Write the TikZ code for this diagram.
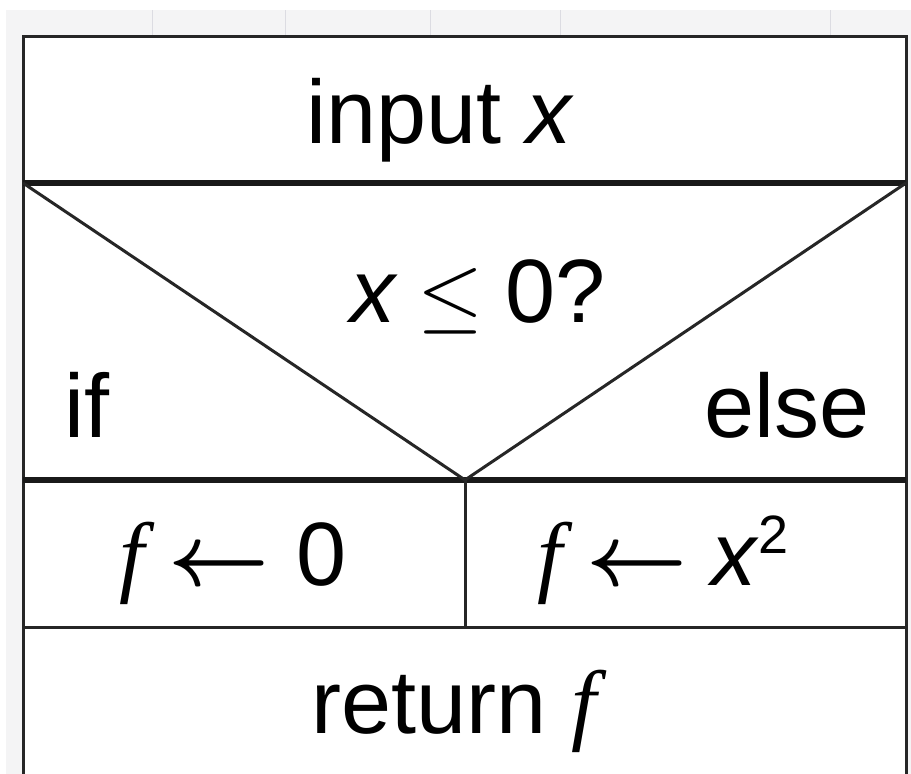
\documentclass[tikz,border=0pt]{standalone}
\usepackage{graphicx}
\usepackage{fontspec}
\setmainfont{Liberation Sans}
\newfontfamily\fserif{Liberation Serif}
\newcommand{\fvar}{{\fserif\itshape f}}
\newcommand{\xvar}{\textit{x}}
\newcommand{\bigleq}{\scalebox{8.5}{\fontsize{10}{12}\selectfont$\leq$}}
\newcommand{\bigarr}{\scalebox{8.8}{\fontsize{10}{12}\selectfont\boldmath$\leftarrow$}}
\begin{document}
\begin{tikzpicture}[x=1pt,y=-1pt,
  thinline/.style={line width=3pt,draw=black!85},
  thickline/.style={line width=6pt,draw=black!90},
  lbl/.style={anchor=base,inner sep=0pt,font=\fontsize{90}{104}\selectfont},
  backdrop/.style={fill=blue!6!gray!8,draw=none}]
\useasboundingbox (0,0) rectangle (911,774);
\fill[backdrop] (6,10) rectangle (911,774);
\foreach \gx in {152,285,430,560,830}{\draw[blue!10!gray!25,line width=1pt] (\gx,10) -- (\gx,36);}
% corners
\coordinate (tl) at (23,36);
\coordinate (tr) at (906,36);
\coordinate (ml) at (23,183);
\coordinate (mr) at (906,183);
\coordinate (vl) at (23,480);
\coordinate (vr) at (906,480);
\coordinate (tip) at (465,480);
\coordinate (dl) at (23,627);
\coordinate (dr) at (906,627);
\coordinate (dm) at (465,627);
\coordinate (bl) at (23,774);
\coordinate (br) at (906,774);
\fill[white] (tl) rectangle (br);
% frame and lines
\draw[thinline] (bl) -- (tl) -- (tr) -- (br);
\draw[thickline] (ml) -- (mr);
\draw[thickline] (vl) -- (vr);
\draw[thinline] (ml) -- (tip) -- (mr);
\draw[thinline] (tip) -- (dm);
\draw[thinline] (dl) -- (dr);
% texts
\node[lbl] (inp) at (440,143) {input \xvar};
\node[lbl] (cond) at (478,322) {\xvar\hspace{20pt}\bigleq\hspace{22pt}0?};
\node[lbl] (iflbl) at (87,437) {if};
\node[lbl] (elselbl) at (787,437) {else};
\node[lbl] (thenst) at (233,585) {\fvar\hspace{24pt}\bigarr\hspace{26pt}0};
\node[lbl] (elsest) at (663,585) {\fvar\hspace{24pt}\bigarr\hspace{24pt}\xvar\raisebox{32pt}{\fontsize{54}{60}\selectfont 2}};
\node[lbl] (ret) at (454,733) {return \fvar};
\end{tikzpicture}
\end{document}
